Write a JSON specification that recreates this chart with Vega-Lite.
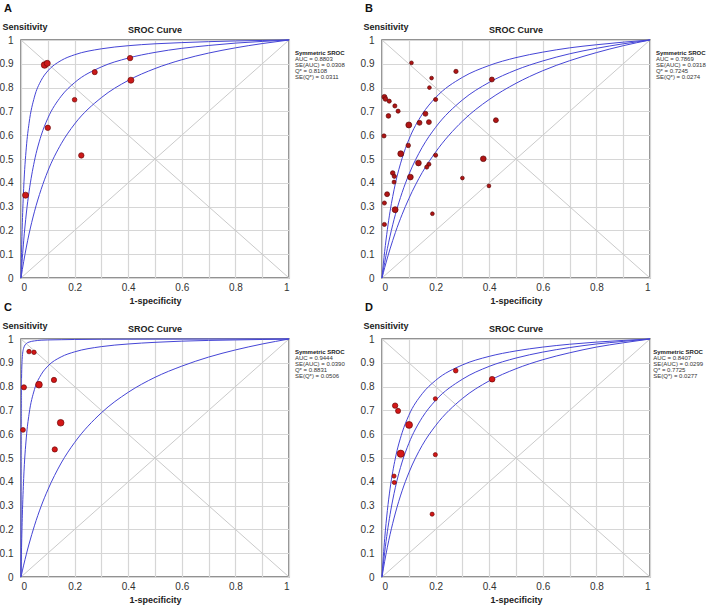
{
 "$schema": "https://vega.github.io/schema/vega-lite/v6.json",
 "background": "white",
 "padding": {"left": -2, "top": 2, "right": 0, "bottom": 0},
 "config": {
  "font": "Liberation Sans",
  "view": {"stroke": "#6f6f6f", "strokeWidth": 1.5},
  "axis": {"grid": true, "gridColor": "#d6d6d6", "gridWidth": 1.2, "gridOpacity": 1, "ticks": false, "domain": false, "labelOverlap": false, "labelFont": "Liberation Sans", "labelFontSize": 10, "labelColor": "#333333", "titleFont": "Liberation Sans", "titleFontSize": 9, "titleFontWeight": "bold", "titleColor": "#222222"},
  "title": {"anchor": "start", "fontSize": 11, "fontWeight": "bold", "color": "#111111", "offset": 8, "dx": 5}
 },
 "datasets": {
  "stats": [
   {"p": "A", "head": "Symmetric SROC", "body": "AUC = 0.8803\nSE(AUC) = 0.0308\nQ* = 0.8108\nSE(Q*) = 0.0311"},
   {"p": "B", "head": "Symmetric SROC", "body": "AUC = 0.7869\nSE(AUC) = 0.0318\nQ* = 0.7245\nSE(Q*) = 0.0274"},
   {"p": "C", "head": "Symmetric SROC", "body": "AUC = 0.9444\nSE(AUC) = 0.0390\nQ* = 0.8831\nSE(Q*) = 0.0506"},
   {"p": "D", "head": "Symmetric SROC", "body": "AUC = 0.8407\nSE(AUC) = 0.0299\nQ* = 0.7725\nSE(Q*) = 0.0277"}
  ],
  "pts": [
   {"p":"A","x":0.088,"y":0.895,"w":3},{"p":"A","x":0.098,"y":0.902,"w":2.5},{"p":"A","x":0.407,"y":0.924,"w":2},{"p":"A","x":0.275,"y":0.865,"w":1.8},{"p":"A","x":0.41,"y":0.831,"w":2.5},{"p":"A","x":0.2,"y":0.749,"w":1.5},{"p":"A","x":0.1,"y":0.631,"w":2},{"p":"A","x":0.225,"y":0.515,"w":2},{"p":"A","x":0.017,"y":0.348,"w":2.5},
   {"p":"B","x":0.11,"y":0.904,"w":1},{"p":"B","x":0.276,"y":0.868,"w":1.3},{"p":"B","x":0.185,"y":0.84,"w":1},{"p":"B","x":0.41,"y":0.834,"w":1.7},{"p":"B","x":0.177,"y":0.8,"w":1},{"p":"B","x":0.009,"y":0.761,"w":1.7},{"p":"B","x":0.013,"y":0.752,"w":1.5},{"p":"B","x":0.027,"y":0.743,"w":1.2},{"p":"B","x":0.2,"y":0.75,"w":1.2},{"p":"B","x":0.048,"y":0.723,"w":1.2},{"p":"B","x":0.06,"y":0.701,"w":1.2},{"p":"B","x":0.024,"y":0.681,"w":1.5},{"p":"B","x":0.162,"y":0.69,"w":1.7},{"p":"B","x":0.1,"y":0.643,"w":2.4},{"p":"B","x":0.14,"y":0.652,"w":1.7},{"p":"B","x":0.175,"y":0.655,"w":1.7},{"p":"B","x":0.425,"y":0.663,"w":1.7},{"p":"B","x":0.0075,"y":0.597,"w":1.2},{"p":"B","x":0.098,"y":0.557,"w":1.4},{"p":"B","x":0.07,"y":0.522,"w":2.4},{"p":"B","x":0.2,"y":0.516,"w":1.2},{"p":"B","x":0.378,"y":0.501,"w":2.2},{"p":"B","x":0.136,"y":0.483,"w":2.2},{"p":"B","x":0.175,"y":0.478,"w":1.2},{"p":"B","x":0.167,"y":0.466,"w":1.2},{"p":"B","x":0.04,"y":0.441,"w":1.5},{"p":"B","x":0.046,"y":0.427,"w":1.2},{"p":"B","x":0.106,"y":0.424,"w":2.2},{"p":"B","x":0.045,"y":0.403,"w":1.1},{"p":"B","x":0.3,"y":0.42,"w":1},{"p":"B","x":0.399,"y":0.387,"w":1},{"p":"B","x":0.019,"y":0.352,"w":1.7},{"p":"B","x":0.009,"y":0.315,"w":1.2},{"p":"B","x":0.049,"y":0.287,"w":2.4},{"p":"B","x":0.188,"y":0.27,"w":1},{"p":"B","x":0.009,"y":0.225,"w":1.2},
   {"p":"C","x":0.03,"y":0.947,"w":1.4},{"p":"C","x":0.0485,"y":0.944,"w":1.4},{"p":"C","x":0.011,"y":0.797,"w":1.8},{"p":"C","x":0.067,"y":0.808,"w":3},{"p":"C","x":0.123,"y":0.828,"w":1.9},{"p":"C","x":0.0075,"y":0.618,"w":1.6},{"p":"C","x":0.148,"y":0.648,"w":3},{"p":"C","x":0.126,"y":0.536,"w":1.9},
   {"p":"D","x":0.275,"y":0.867,"w":1.5},{"p":"D","x":0.411,"y":0.831,"w":2.2},{"p":"D","x":0.199,"y":0.749,"w":1.2},{"p":"D","x":0.049,"y":0.72,"w":2},{"p":"D","x":0.06,"y":0.698,"w":1.8},{"p":"D","x":0.101,"y":0.639,"w":3.2},{"p":"D","x":0.07,"y":0.518,"w":3.5},{"p":"D","x":0.199,"y":0.514,"w":1.2},{"p":"D","x":0.045,"y":0.424,"w":1.2},{"p":"D","x":0.046,"y":0.397,"w":1.2},{"p":"D","x":0.187,"y":0.264,"w":1.2}
  ],
  "curves": [
   {"p":"A","c":"u","x":0,"y":0},{"p":"A","c":"u","x":0.002,"y":0.107},{"p":"A","c":"u","x":0.005,"y":0.232},{"p":"A","c":"u","x":0.01,"y":0.377},{"p":"A","c":"u","x":0.02,"y":0.55},{"p":"A","c":"u","x":0.03,"y":0.65},{"p":"A","c":"u","x":0.05,"y":0.76},{"p":"A","c":"u","x":0.075,"y":0.83},{"p":"A","c":"u","x":0.1,"y":0.87},{"p":"A","c":"u","x":0.15,"y":0.914},{"p":"A","c":"u","x":0.2,"y":0.938},{"p":"A","c":"u","x":0.3,"y":0.963},{"p":"A","c":"u","x":0.4,"y":0.976},{"p":"A","c":"u","x":0.5,"y":0.984},{"p":"A","c":"u","x":0.6,"y":0.989},{"p":"A","c":"u","x":0.7,"y":0.993},{"p":"A","c":"u","x":0.8,"y":0.996},{"p":"A","c":"u","x":0.9,"y":0.998},{"p":"A","c":"u","x":1,"y":1},
   {"p":"A","c":"m","x":0,"y":0},{"p":"A","c":"m","x":0.002,"y":0.0355},{"p":"A","c":"m","x":0.005,"y":0.0845},{"p":"A","c":"m","x":0.01,"y":0.156},{"p":"A","c":"m","x":0.02,"y":0.273},{"p":"A","c":"m","x":0.03,"y":0.362},{"p":"A","c":"m","x":0.05,"y":0.491},{"p":"A","c":"m","x":0.075,"y":0.598},{"p":"A","c":"m","x":0.1,"y":0.671},{"p":"A","c":"m","x":0.15,"y":0.764},{"p":"A","c":"m","x":0.2,"y":0.821},{"p":"A","c":"m","x":0.3,"y":0.887},{"p":"A","c":"m","x":0.4,"y":0.924},{"p":"A","c":"m","x":0.5,"y":0.948},{"p":"A","c":"m","x":0.6,"y":0.965},{"p":"A","c":"m","x":0.7,"y":0.977},{"p":"A","c":"m","x":0.8,"y":0.987},{"p":"A","c":"m","x":0.9,"y":0.994},{"p":"A","c":"m","x":1,"y":1},
   {"p":"A","c":"l","x":0,"y":0},{"p":"A","c":"l","x":0.002,"y":0.0145},{"p":"A","c":"l","x":0.005,"y":0.0355},{"p":"A","c":"l","x":0.01,"y":0.0688},{"p":"A","c":"l","x":0.02,"y":0.13},{"p":"A","c":"l","x":0.03,"y":0.185},{"p":"A","c":"l","x":0.05,"y":0.278},{"p":"A","c":"l","x":0.075,"y":0.372},{"p":"A","c":"l","x":0.1,"y":0.449},{"p":"A","c":"l","x":0.15,"y":0.564},{"p":"A","c":"l","x":0.2,"y":0.647},{"p":"A","c":"l","x":0.3,"y":0.758},{"p":"A","c":"l","x":0.4,"y":0.83},{"p":"A","c":"l","x":0.5,"y":0.88},{"p":"A","c":"l","x":0.6,"y":0.917},{"p":"A","c":"l","x":0.7,"y":0.945},{"p":"A","c":"l","x":0.8,"y":0.967},{"p":"A","c":"l","x":0.9,"y":0.985},{"p":"A","c":"l","x":1,"y":1},
   {"p":"B","c":"u","x":0,"y":0},{"p":"B","c":"u","x":0.002,"y":0.0244},{"p":"B","c":"u","x":0.005,"y":0.0591},{"p":"B","c":"u","x":0.01,"y":0.112},{"p":"B","c":"u","x":0.02,"y":0.203},{"p":"B","c":"u","x":0.03,"y":0.279},{"p":"B","c":"u","x":0.05,"y":0.397},{"p":"B","c":"u","x":0.075,"y":0.503},{"p":"B","c":"u","x":0.1,"y":0.581},{"p":"B","c":"u","x":0.15,"y":0.688},{"p":"B","c":"u","x":0.2,"y":0.758},{"p":"B","c":"u","x":0.3,"y":0.843},{"p":"B","c":"u","x":0.4,"y":0.893},{"p":"B","c":"u","x":0.5,"y":0.926},{"p":"B","c":"u","x":0.6,"y":0.949},{"p":"B","c":"u","x":0.7,"y":0.967},{"p":"B","c":"u","x":0.8,"y":0.98},{"p":"B","c":"u","x":0.9,"y":0.991},{"p":"B","c":"u","x":1,"y":1},
   {"p":"B","c":"m","x":0,"y":0},{"p":"B","c":"m","x":0.002,"y":0.0137},{"p":"B","c":"m","x":0.005,"y":0.0336},{"p":"B","c":"m","x":0.01,"y":0.0652},{"p":"B","c":"m","x":0.02,"y":0.1236},{"p":"B","c":"m","x":0.03,"y":0.176},{"p":"B","c":"m","x":0.05,"y":0.267},{"p":"B","c":"m","x":0.075,"y":0.359},{"p":"B","c":"m","x":0.1,"y":0.434},{"p":"B","c":"m","x":0.15,"y":0.549},{"p":"B","c":"m","x":0.2,"y":0.633},{"p":"B","c":"m","x":0.3,"y":0.748},{"p":"B","c":"m","x":0.4,"y":0.822},{"p":"B","c":"m","x":0.5,"y":0.874},{"p":"B","c":"m","x":0.6,"y":0.912},{"p":"B","c":"m","x":0.7,"y":0.942},{"p":"B","c":"m","x":0.8,"y":0.965},{"p":"B","c":"m","x":0.9,"y":0.984},{"p":"B","c":"m","x":1,"y":1},
   {"p":"B","c":"l","x":0,"y":0},{"p":"B","c":"l","x":0.002,"y":0.0089},{"p":"B","c":"l","x":0.005,"y":0.0221},{"p":"B","c":"l","x":0.01,"y":0.0435},{"p":"B","c":"l","x":0.02,"y":0.0841},{"p":"B","c":"l","x":0.03,"y":0.122},{"p":"B","c":"l","x":0.05,"y":0.1915},{"p":"B","c":"l","x":0.075,"y":0.267},{"p":"B","c":"l","x":0.1,"y":0.333},{"p":"B","c":"l","x":0.15,"y":0.443},{"p":"B","c":"l","x":0.2,"y":0.529},{"p":"B","c":"l","x":0.3,"y":0.659},{"p":"B","c":"l","x":0.4,"y":0.75},{"p":"B","c":"l","x":0.5,"y":0.818},{"p":"B","c":"l","x":0.6,"y":0.871},{"p":"B","c":"l","x":0.7,"y":0.913},{"p":"B","c":"l","x":0.8,"y":0.947},{"p":"B","c":"l","x":0.9,"y":0.976},{"p":"B","c":"l","x":1,"y":1},
   {"p":"C","c":"u","x":0,"y":0},{"p":"C","c":"u","x":0.0005,"y":0.556},{"p":"C","c":"u","x":0.001,"y":0.714},{"p":"C","c":"u","x":0.002,"y":0.834},{"p":"C","c":"u","x":0.005,"y":0.926},{"p":"C","c":"u","x":0.01,"y":0.962},{"p":"C","c":"u","x":0.02,"y":0.981},{"p":"C","c":"u","x":0.03,"y":0.987},{"p":"C","c":"u","x":0.05,"y":0.992},{"p":"C","c":"u","x":0.075,"y":0.995},{"p":"C","c":"u","x":0.1,"y":0.996},{"p":"C","c":"u","x":0.15,"y":0.997},{"p":"C","c":"u","x":0.2,"y":0.998},{"p":"C","c":"u","x":0.3,"y":0.999},{"p":"C","c":"u","x":0.5,"y":0.9995},{"p":"C","c":"u","x":0.7,"y":0.9997},{"p":"C","c":"u","x":0.9,"y":0.9999},{"p":"C","c":"u","x":1,"y":1},
   {"p":"C","c":"m","x":0,"y":0},{"p":"C","c":"m","x":0.0005,"y":0.0338},{"p":"C","c":"m","x":0.001,"y":0.0654},{"p":"C","c":"m","x":0.002,"y":0.123},{"p":"C","c":"m","x":0.005,"y":0.26},{"p":"C","c":"m","x":0.01,"y":0.414},{"p":"C","c":"m","x":0.02,"y":0.588},{"p":"C","c":"m","x":0.03,"y":0.684},{"p":"C","c":"m","x":0.05,"y":0.787},{"p":"C","c":"m","x":0.075,"y":0.85},{"p":"C","c":"m","x":0.1,"y":0.886},{"p":"C","c":"m","x":0.15,"y":0.925},{"p":"C","c":"m","x":0.2,"y":0.946},{"p":"C","c":"m","x":0.3,"y":0.968},{"p":"C","c":"m","x":0.4,"y":0.979},{"p":"C","c":"m","x":0.5,"y":0.986},{"p":"C","c":"m","x":0.6,"y":0.991},{"p":"C","c":"m","x":0.7,"y":0.994},{"p":"C","c":"m","x":0.8,"y":0.996},{"p":"C","c":"m","x":0.9,"y":0.998},{"p":"C","c":"m","x":1,"y":1},
   {"p":"C","c":"l","x":0,"y":0},{"p":"C","c":"l","x":0.002,"y":0.0103},{"p":"C","c":"l","x":0.005,"y":0.0255},{"p":"C","c":"l","x":0.01,"y":0.0499},{"p":"C","c":"l","x":0.02,"y":0.0959},{"p":"C","c":"l","x":0.03,"y":0.1385},{"p":"C","c":"l","x":0.05,"y":0.215},{"p":"C","c":"l","x":0.075,"y":0.297},{"p":"C","c":"l","x":0.1,"y":0.366},{"p":"C","c":"l","x":0.15,"y":0.479},{"p":"C","c":"l","x":0.2,"y":0.565},{"p":"C","c":"l","x":0.3,"y":0.69},{"p":"C","c":"l","x":0.4,"y":0.776},{"p":"C","c":"l","x":0.5,"y":0.839},{"p":"C","c":"l","x":0.6,"y":0.886},{"p":"C","c":"l","x":0.7,"y":0.924},{"p":"C","c":"l","x":0.8,"y":0.954},{"p":"C","c":"l","x":0.9,"y":0.979},{"p":"C","c":"l","x":1,"y":1},
   {"p":"D","c":"u","x":0,"y":0},{"p":"D","c":"u","x":0.002,"y":0.0367},{"p":"D","c":"u","x":0.005,"y":0.0872},{"p":"D","c":"u","x":0.01,"y":0.161},{"p":"D","c":"u","x":0.02,"y":0.279},{"p":"D","c":"u","x":0.03,"y":0.37},{"p":"D","c":"u","x":0.05,"y":0.5},{"p":"D","c":"u","x":0.075,"y":0.606},{"p":"D","c":"u","x":0.1,"y":0.679},{"p":"D","c":"u","x":0.15,"y":0.77},{"p":"D","c":"u","x":0.2,"y":0.826},{"p":"D","c":"u","x":0.3,"y":0.891},{"p":"D","c":"u","x":0.4,"y":0.927},{"p":"D","c":"u","x":0.5,"y":0.95},{"p":"D","c":"u","x":0.6,"y":0.966},{"p":"D","c":"u","x":0.7,"y":0.978},{"p":"D","c":"u","x":0.8,"y":0.987},{"p":"D","c":"u","x":0.9,"y":0.994},{"p":"D","c":"u","x":1,"y":1},
   {"p":"D","c":"m","x":0,"y":0},{"p":"D","c":"m","x":0.002,"y":0.0225},{"p":"D","c":"m","x":0.005,"y":0.0546},{"p":"D","c":"m","x":0.01,"y":0.104},{"p":"D","c":"m","x":0.02,"y":0.19},{"p":"D","c":"m","x":0.03,"y":0.262},{"p":"D","c":"m","x":0.05,"y":0.377},{"p":"D","c":"m","x":0.075,"y":0.483},{"p":"D","c":"m","x":0.1,"y":0.561},{"p":"D","c":"m","x":0.15,"y":0.67},{"p":"D","c":"m","x":0.2,"y":0.742},{"p":"D","c":"m","x":0.3,"y":0.831},{"p":"D","c":"m","x":0.4,"y":0.885},{"p":"D","c":"m","x":0.5,"y":0.92},{"p":"D","c":"m","x":0.6,"y":0.945},{"p":"D","c":"m","x":0.7,"y":0.964},{"p":"D","c":"m","x":0.8,"y":0.979},{"p":"D","c":"m","x":0.9,"y":0.99},{"p":"D","c":"m","x":1,"y":1},
   {"p":"D","c":"l","x":0,"y":0},{"p":"D","c":"l","x":0.002,"y":0.0138},{"p":"D","c":"l","x":0.005,"y":0.034},{"p":"D","c":"l","x":0.01,"y":0.066},{"p":"D","c":"l","x":0.02,"y":0.125},{"p":"D","c":"l","x":0.03,"y":0.178},{"p":"D","c":"l","x":0.05,"y":0.269},{"p":"D","c":"l","x":0.075,"y":0.362},{"p":"D","c":"l","x":0.1,"y":0.4375},{"p":"D","c":"l","x":0.15,"y":0.553},{"p":"D","c":"l","x":0.2,"y":0.636},{"p":"D","c":"l","x":0.3,"y":0.75},{"p":"D","c":"l","x":0.4,"y":0.824},{"p":"D","c":"l","x":0.5,"y":0.875},{"p":"D","c":"l","x":0.6,"y":0.913},{"p":"D","c":"l","x":0.7,"y":0.942},{"p":"D","c":"l","x":0.8,"y":0.966},{"p":"D","c":"l","x":0.9,"y":0.984},{"p":"D","c":"l","x":1,"y":1}
  ]
 },
 "columns": 2,
 "spacing": {"row": 61, "column": 93},
 "bounds": "flush",
 "concat": [
  {"title": {"text": "A"}, "width": 268, "height": 238, "layer": [
   {"data": {"name": "curves"}, "transform": [{"filter": "datum.p == 'A'"}], "mark": {"type": "line", "strokeOpacity": 0}, "encoding": {"x": {"field": "x", "type": "quantitative", "scale": {"domain": [0, 1], "nice": false}, "axis": {"tickCount": 10, "labelOverlap": false, "grid": true, "format": "~g", "labelExpr": "round(datum.value*10) % 2 == 0 ? datum.label : ''", "title": "1-specificity", "labelPadding": 4, "titlePadding": 4}}, "y": {"field": "y", "type": "quantitative", "scale": {"domain": [0, 1], "nice": false}, "axis": {"tickCount": 10, "labelOverlap": false, "grid": true, "format": "~g", "title": "Sensitivity", "titleAngle": 0, "titleAlign": "left", "titleBaseline": "alphabetic", "titleX": -19, "titleY": -11, "labelPadding": 8}}, "detail": {"field": "c"}}},
   {"data": {"values": [{}]}, "mark": {"type": "rule", "color": "#cacaca", "strokeWidth": 1}, "encoding": {"x": {"datum": 0, "type": "quantitative"}, "y": {"datum": 0, "type": "quantitative"}, "x2": {"datum": 1}, "y2": {"datum": 1}}},
   {"data": {"values": [{}]}, "mark": {"type": "rule", "color": "#cacaca", "strokeWidth": 1}, "encoding": {"x": {"datum": 0, "type": "quantitative"}, "y": {"datum": 1, "type": "quantitative"}, "x2": {"datum": 1}, "y2": {"datum": 0}}},
   {"data": {"name": "curves"}, "transform": [{"filter": "datum.p == 'A'"}], "mark": {"type": "line", "color": "#4545d6", "strokeWidth": 1, "interpolate": "monotone"}, "encoding": {"x": {"field": "x", "type": "quantitative"}, "y": {"field": "y", "type": "quantitative"}, "detail": {"field": "c"}}},
   {"data": {"name": "pts"}, "transform": [{"filter": "datum.p == 'A'"}], "mark": {"type": "circle", "fill": "#cc1a1a", "stroke": "#6e0a0a", "strokeWidth": 0.7, "opacity": 1}, "encoding": {"x": {"field": "x", "type": "quantitative"}, "y": {"field": "y", "type": "quantitative"}, "size": {"field": "w", "type": "quantitative", "scale": {"domain": [1, 3.5], "range": [14, 52]}, "legend": null}}},
   {"data": {"values": [{}]}, "mark": {"type": "text", "text": "SROC Curve", "fontWeight": "bold", "fontSize": 9, "dy": -7, "baseline": "alphabetic", "color": "#222222"}, "encoding": {"x": {"datum": 0.5, "type": "quantitative"}, "y": {"datum": 1, "type": "quantitative"}}},
   {"data": {"name": "stats"}, "transform": [{"filter": "datum.p == 'A'"}], "mark": {"type": "text", "fontWeight": "bold", "fontSize": 6, "align": "left", "baseline": "top", "color": "#222222"}, "encoding": {"x": {"datum": 1.022, "type": "quantitative"}, "y": {"datum": 0.956, "type": "quantitative"}, "text": {"field": "head"}}},
   {"data": {"name": "stats"}, "transform": [{"filter": "datum.p == 'A'"}], "mark": {"type": "text", "fontSize": 6, "align": "left", "baseline": "top", "lineBreak": "\n", "lineHeight": 6, "color": "#333333"}, "encoding": {"x": {"datum": 1.022, "type": "quantitative"}, "y": {"datum": 0.931, "type": "quantitative"}, "text": {"field": "body"}}}
  ]},
  {"title": {"text": "B"}, "width": 268, "height": 238, "layer": [
   {"data": {"name": "curves"}, "transform": [{"filter": "datum.p == 'B'"}], "mark": {"type": "line", "strokeOpacity": 0}, "encoding": {"x": {"field": "x", "type": "quantitative", "scale": {"domain": [0, 1], "nice": false}, "axis": {"tickCount": 10, "labelOverlap": false, "grid": true, "format": "~g", "labelExpr": "round(datum.value*10) % 2 == 0 ? datum.label : ''", "title": "1-specificity", "labelPadding": 4, "titlePadding": 4}}, "y": {"field": "y", "type": "quantitative", "scale": {"domain": [0, 1], "nice": false}, "axis": {"tickCount": 10, "labelOverlap": false, "grid": true, "format": "~g", "title": "Sensitivity", "titleAngle": 0, "titleAlign": "left", "titleBaseline": "alphabetic", "titleX": -19, "titleY": -11, "labelPadding": 8}}, "detail": {"field": "c"}}},
   {"data": {"values": [{}]}, "mark": {"type": "rule", "color": "#cacaca", "strokeWidth": 1}, "encoding": {"x": {"datum": 0, "type": "quantitative"}, "y": {"datum": 0, "type": "quantitative"}, "x2": {"datum": 1}, "y2": {"datum": 1}}},
   {"data": {"values": [{}]}, "mark": {"type": "rule", "color": "#cacaca", "strokeWidth": 1}, "encoding": {"x": {"datum": 0, "type": "quantitative"}, "y": {"datum": 1, "type": "quantitative"}, "x2": {"datum": 1}, "y2": {"datum": 0}}},
   {"data": {"name": "curves"}, "transform": [{"filter": "datum.p == 'B'"}], "mark": {"type": "line", "color": "#4545d6", "strokeWidth": 1, "interpolate": "monotone"}, "encoding": {"x": {"field": "x", "type": "quantitative"}, "y": {"field": "y", "type": "quantitative"}, "detail": {"field": "c"}}},
   {"data": {"name": "pts"}, "transform": [{"filter": "datum.p == 'B'"}], "mark": {"type": "circle", "fill": "#b01414", "stroke": "#5e0808", "strokeWidth": 0.7, "opacity": 1}, "encoding": {"x": {"field": "x", "type": "quantitative"}, "y": {"field": "y", "type": "quantitative"}, "size": {"field": "w", "type": "quantitative", "scale": {"domain": [1, 3.5], "range": [14, 52]}, "legend": null}}},
   {"data": {"values": [{}]}, "mark": {"type": "text", "text": "SROC Curve", "fontWeight": "bold", "fontSize": 9, "dy": -7, "baseline": "alphabetic", "color": "#222222"}, "encoding": {"x": {"datum": 0.5, "type": "quantitative"}, "y": {"datum": 1, "type": "quantitative"}}},
   {"data": {"name": "stats"}, "transform": [{"filter": "datum.p == 'B'"}], "mark": {"type": "text", "fontWeight": "bold", "fontSize": 6, "align": "left", "baseline": "top", "color": "#222222"}, "encoding": {"x": {"datum": 1.022, "type": "quantitative"}, "y": {"datum": 0.956, "type": "quantitative"}, "text": {"field": "head"}}},
   {"data": {"name": "stats"}, "transform": [{"filter": "datum.p == 'B'"}], "mark": {"type": "text", "fontSize": 6, "align": "left", "baseline": "top", "lineBreak": "\n", "lineHeight": 6, "color": "#333333"}, "encoding": {"x": {"datum": 1.022, "type": "quantitative"}, "y": {"datum": 0.931, "type": "quantitative"}, "text": {"field": "body"}}}
  ]},
  {"title": {"text": "C"}, "width": 268, "height": 238, "layer": [
   {"data": {"name": "curves"}, "transform": [{"filter": "datum.p == 'C'"}], "mark": {"type": "line", "strokeOpacity": 0}, "encoding": {"x": {"field": "x", "type": "quantitative", "scale": {"domain": [0, 1], "nice": false}, "axis": {"tickCount": 10, "labelOverlap": false, "grid": true, "format": "~g", "labelExpr": "round(datum.value*10) % 2 == 0 ? datum.label : ''", "title": "1-specificity", "labelPadding": 4, "titlePadding": 4}}, "y": {"field": "y", "type": "quantitative", "scale": {"domain": [0, 1], "nice": false}, "axis": {"tickCount": 10, "labelOverlap": false, "grid": true, "format": "~g", "title": "Sensitivity", "titleAngle": 0, "titleAlign": "left", "titleBaseline": "alphabetic", "titleX": -19, "titleY": -11, "labelPadding": 8}}, "detail": {"field": "c"}}},
   {"data": {"values": [{}]}, "mark": {"type": "rule", "color": "#cacaca", "strokeWidth": 1}, "encoding": {"x": {"datum": 0, "type": "quantitative"}, "y": {"datum": 0, "type": "quantitative"}, "x2": {"datum": 1}, "y2": {"datum": 1}}},
   {"data": {"values": [{}]}, "mark": {"type": "rule", "color": "#cacaca", "strokeWidth": 1}, "encoding": {"x": {"datum": 0, "type": "quantitative"}, "y": {"datum": 1, "type": "quantitative"}, "x2": {"datum": 1}, "y2": {"datum": 0}}},
   {"data": {"name": "curves"}, "transform": [{"filter": "datum.p == 'C'"}], "mark": {"type": "line", "color": "#4545d6", "strokeWidth": 1, "interpolate": "monotone"}, "encoding": {"x": {"field": "x", "type": "quantitative"}, "y": {"field": "y", "type": "quantitative"}, "detail": {"field": "c"}}},
   {"data": {"name": "pts"}, "transform": [{"filter": "datum.p == 'C'"}], "mark": {"type": "circle", "fill": "#d41616", "stroke": "#6e0a0a", "strokeWidth": 0.7, "opacity": 1}, "encoding": {"x": {"field": "x", "type": "quantitative"}, "y": {"field": "y", "type": "quantitative"}, "size": {"field": "w", "type": "quantitative", "scale": {"domain": [1, 3.5], "range": [14, 52]}, "legend": null}}},
   {"data": {"values": [{}]}, "mark": {"type": "text", "text": "SROC Curve", "fontWeight": "bold", "fontSize": 9, "dy": -7, "baseline": "alphabetic", "color": "#222222"}, "encoding": {"x": {"datum": 0.5, "type": "quantitative"}, "y": {"datum": 1, "type": "quantitative"}}},
   {"data": {"name": "stats"}, "transform": [{"filter": "datum.p == 'C'"}], "mark": {"type": "text", "fontWeight": "bold", "fontSize": 6, "align": "left", "baseline": "top", "color": "#222222"}, "encoding": {"x": {"datum": 1.022, "type": "quantitative"}, "y": {"datum": 0.956, "type": "quantitative"}, "text": {"field": "head"}}},
   {"data": {"name": "stats"}, "transform": [{"filter": "datum.p == 'C'"}], "mark": {"type": "text", "fontSize": 6, "align": "left", "baseline": "top", "lineBreak": "\n", "lineHeight": 6, "color": "#333333"}, "encoding": {"x": {"datum": 1.022, "type": "quantitative"}, "y": {"datum": 0.931, "type": "quantitative"}, "text": {"field": "body"}}}
  ]},
  {"title": {"text": "D"}, "width": 268, "height": 238, "layer": [
   {"data": {"name": "curves"}, "transform": [{"filter": "datum.p == 'D'"}], "mark": {"type": "line", "strokeOpacity": 0}, "encoding": {"x": {"field": "x", "type": "quantitative", "scale": {"domain": [0, 1], "nice": false}, "axis": {"tickCount": 10, "labelOverlap": false, "grid": true, "format": "~g", "labelExpr": "round(datum.value*10) % 2 == 0 ? datum.label : ''", "title": "1-specificity", "labelPadding": 4, "titlePadding": 4}}, "y": {"field": "y", "type": "quantitative", "scale": {"domain": [0, 1], "nice": false}, "axis": {"tickCount": 10, "labelOverlap": false, "grid": true, "format": "~g", "title": "Sensitivity", "titleAngle": 0, "titleAlign": "left", "titleBaseline": "alphabetic", "titleX": -19, "titleY": -11, "labelPadding": 8}}, "detail": {"field": "c"}}},
   {"data": {"values": [{}]}, "mark": {"type": "rule", "color": "#cacaca", "strokeWidth": 1}, "encoding": {"x": {"datum": 0, "type": "quantitative"}, "y": {"datum": 0, "type": "quantitative"}, "x2": {"datum": 1}, "y2": {"datum": 1}}},
   {"data": {"values": [{}]}, "mark": {"type": "rule", "color": "#cacaca", "strokeWidth": 1}, "encoding": {"x": {"datum": 0, "type": "quantitative"}, "y": {"datum": 1, "type": "quantitative"}, "x2": {"datum": 1}, "y2": {"datum": 0}}},
   {"data": {"name": "curves"}, "transform": [{"filter": "datum.p == 'D'"}], "mark": {"type": "line", "color": "#4545d6", "strokeWidth": 1, "interpolate": "monotone"}, "encoding": {"x": {"field": "x", "type": "quantitative"}, "y": {"field": "y", "type": "quantitative"}, "detail": {"field": "c"}}},
   {"data": {"name": "pts"}, "transform": [{"filter": "datum.p == 'D'"}], "mark": {"type": "circle", "fill": "#d41616", "stroke": "#6e0a0a", "strokeWidth": 0.7, "opacity": 1}, "encoding": {"x": {"field": "x", "type": "quantitative"}, "y": {"field": "y", "type": "quantitative"}, "size": {"field": "w", "type": "quantitative", "scale": {"domain": [1, 3.5], "range": [14, 52]}, "legend": null}}},
   {"data": {"values": [{}]}, "mark": {"type": "text", "text": "SROC Curve", "fontWeight": "bold", "fontSize": 9, "dy": -7, "baseline": "alphabetic", "color": "#222222"}, "encoding": {"x": {"datum": 0.5, "type": "quantitative"}, "y": {"datum": 1, "type": "quantitative"}}},
   {"data": {"name": "stats"}, "transform": [{"filter": "datum.p == 'D'"}], "mark": {"type": "text", "fontWeight": "bold", "fontSize": 6, "align": "left", "baseline": "top", "color": "#222222"}, "encoding": {"x": {"datum": 1.012, "type": "quantitative"}, "y": {"datum": 0.956, "type": "quantitative"}, "text": {"field": "head"}}},
   {"data": {"name": "stats"}, "transform": [{"filter": "datum.p == 'D'"}], "mark": {"type": "text", "fontSize": 6, "align": "left", "baseline": "top", "lineBreak": "\n", "lineHeight": 6, "color": "#333333"}, "encoding": {"x": {"datum": 1.012, "type": "quantitative"}, "y": {"datum": 0.931, "type": "quantitative"}, "text": {"field": "body"}}}
  ]}
 ]
}
